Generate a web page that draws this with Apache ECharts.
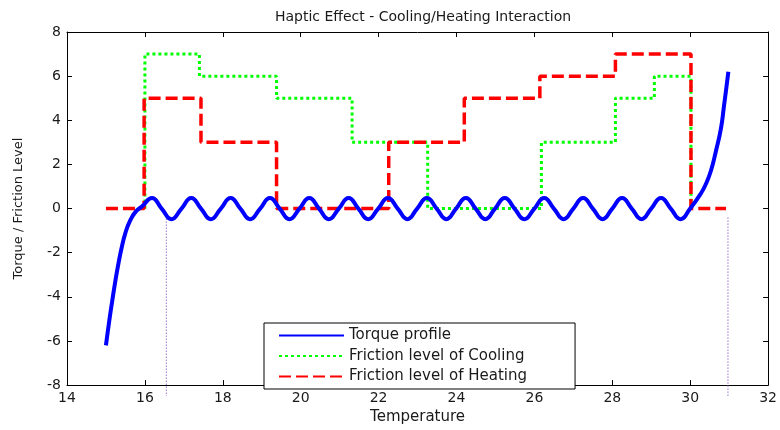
<!DOCTYPE html>
<html>
<head>
<meta charset="utf-8">
<script src="https://cdn.jsdelivr.net/npm/echarts@6/dist/echarts.min.js"></script>
<style>html,body{margin:0;padding:0;background:#fff;}#c{width:780px;height:430px;}</style>
</head>
<body>
<div id="c"></div>
<script>
// ---- data ----
const titleText = 'Haptic Effect - Cooling/Heating Interaction';
const xName = 'Temperature';
const yName = 'Torque / Friction Level';
const xRange = [14, 32, 2];
const yRange = [-8, 8, 2];

const torqueX = [15.0,15.08,15.16,15.24,15.32,15.4,15.5,15.62,15.76,15.93,
  16.18,16.43,16.68,16.94, 17.19,17.44,17.69,17.95, 18.2,18.45,18.7,18.96,
  19.21,19.46,19.71,19.97, 20.22,20.47,20.72,20.98, 21.23,21.48,21.73,21.99,
  22.24,22.49,22.74,22.99, 23.24,23.49,23.74,23.99, 24.24,24.49,24.74,24.99,
  25.24,25.49,25.74,26.0, 26.25,26.5,26.75,27.0, 27.25,27.5,27.75,28.0,
  28.25,28.5,28.75,29.0, 29.25,29.5,29.75,30.0,
  30.27,30.4,30.53,30.66,30.79,30.87,30.93,30.98];
const torqueY = [-6.2,-5.15,-4.2,-3.3,-2.5,-1.8,-1.1,-0.55,-0.15,0.1,
  0.48,0,-0.48,0, 0.48,0,-0.48,0, 0.48,0,-0.48,0,
  0.48,0,-0.48,0, 0.48,0,-0.48,0, 0.48,0,-0.48,0,
  0.48,0,-0.48,0, 0.48,0,-0.48,0, 0.48,0,-0.48,0,
  0.48,0,-0.48,0, 0.48,0,-0.48,0, 0.48,0,-0.48,0,
  0.48,0,-0.48,0, 0.48,0,-0.48,0,
  0.67,1.1,1.7,2.6,3.63,4.68,5.5,6.2];

// step levels: value holds from x[i] to x[i+1]
const coolX = [16, 16, 17.4, 19.38, 21.32, 23.26, 26.18, 28.08, 29.08, 30.02];
const coolY = [0, 7, 6, 5, 3, 0, 3, 5, 6, 0];
const heatX = [15, 15.98, 17.44, 19.38, 22.26, 24.2, 26.14, 28.08, 30.02, 30.92];
const heatY = [0, 5, 3, 0, 3, 5, 6, 7, 0, 0];

// dotted vertical markers (x, top y, bottom y)
const markerX = [16.55, 30.97];
const markerTop = [-0.45, -0.4];
const markerBottom = [-8.5, -8.5];

const seriesNames = ['Torque profile', 'Friction level of Cooling', 'Friction level of Heating'];

// ---- chart ----
const zip = (xs, ys) => xs.map((x, i) => [x, ys[i]]);
const font = 'DejaVu Sans';
const ink = '#1a1a1a';

const axisCommon = {
  type: 'value',
  axisLine: { show: true, onZero: false, lineStyle: { color: '#000', width: 1 } },
  axisTick: { show: true, inside: true, length: 5, lineStyle: { color: '#000' } },
  splitLine: { show: false }
};

const markerSeries = markerX.map((mx, i) => ({
  type: 'line',
  name: 'marker' + i,
  data: [[mx, markerTop[i]], [mx, markerBottom[i]]],
  symbol: 'none',
  clip: false,
  silent: true,
  lineStyle: { color: '#9a72cc', width: 1, type: [1.5, 1.5] },
  z: 1
}));

const chart = echarts.init(document.getElementById('c'), null, { renderer: 'canvas' });
chart.setOption({
  animation: false,
  backgroundColor: '#fff',
  textStyle: { fontFamily: font, color: ink },
  title: {
    text: titleText, left: 418, top: 5, textAlign: 'center',
    textStyle: { fontFamily: font, fontSize: 14, fontWeight: 'normal', color: ink }
  },
  grid: { left: 67, right: 11, top: 32, bottom: 38 },
  legend: {
    data: seriesNames,
    orient: 'vertical',
    left: 264, top: 323,
    padding: [5, 48, 5, 14],
    itemWidth: 65, itemHeight: 14, itemGap: 5.5,
    borderColor: '#000', borderWidth: 1, borderRadius: 0,
    backgroundColor: '#fff',
    itemStyle: { opacity: 0 },
    textStyle: { fontFamily: font, fontSize: 15, color: ink }
  },
  xAxis: [
    Object.assign({}, axisCommon, {
      position: 'bottom', min: xRange[0], max: xRange[1], interval: xRange[2],
      name: xName, nameLocation: 'middle', nameGap: 20,
      nameTextStyle: { fontFamily: font, fontSize: 15, color: ink },
      axisLabel: { fontFamily: font, fontSize: 14, color: ink, margin: 6 }
    }),
    Object.assign({}, axisCommon, {
      position: 'top', min: xRange[0], max: xRange[1], interval: xRange[2],
      axisLabel: { show: false }
    })
  ],
  yAxis: [
    Object.assign({}, axisCommon, {
      position: 'left', min: yRange[0], max: yRange[1], interval: yRange[2],
      name: yName, nameLocation: 'middle', nameGap: 42,
      nameTextStyle: { fontFamily: font, fontSize: 13, color: ink },
      axisLabel: { fontFamily: font, fontSize: 14, color: ink, margin: 6 }
    }),
    Object.assign({}, axisCommon, {
      position: 'right', min: yRange[0], max: yRange[1], interval: yRange[2],
      axisLabel: { show: false }
    })
  ],
  series: [
    {
      type: 'line', name: seriesNames[1], data: zip(coolX, coolY), step: 'end',
      symbol: 'none', color: '#00ff00',
      lineStyle: { color: '#00ff00', width: 3, type: [3, 3] }, z: 3
    },
    {
      type: 'line', name: seriesNames[2], data: zip(heatX, heatY), step: 'end',
      symbol: 'none', color: '#ff0000',
      lineStyle: { color: '#ff0000', width: 3.5, type: [12, 5] }, z: 4
    },
    {
      type: 'line', name: seriesNames[0], data: zip(torqueX, torqueY), smooth: 0.5,
      symbol: 'none', color: '#0000ff',
      lineStyle: { color: '#0000ff', width: 4, type: 'solid' }, z: 5
    }
  ].concat(markerSeries)
});
</script>
</body>
</html>
